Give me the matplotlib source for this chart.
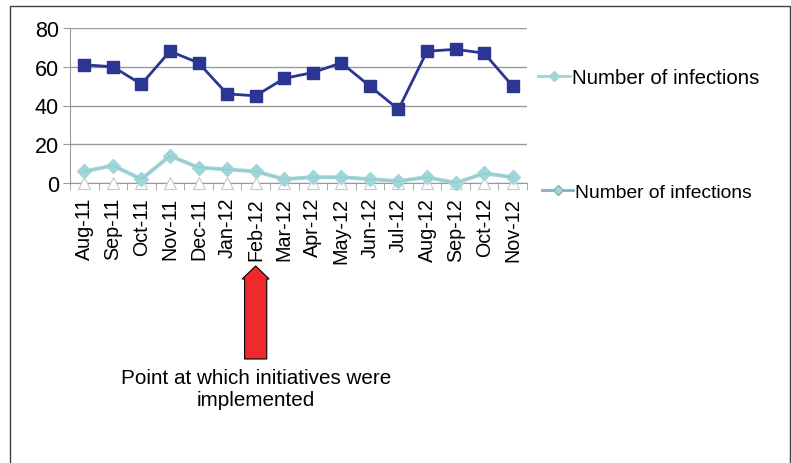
import numpy as np
import matplotlib.pyplot as plt
from matplotlib.lines import Line2D
from matplotlib.patches import Rectangle, FancyArrow

plt.rcParams['font.family'] = ['Liberation Sans', 'DejaVu Sans']

#%% Dados
meses = ['Aug-11', 'Sep-11', 'Oct-11', 'Nov-11', 'Dec-11', 'Jan-12', 'Feb-12', 'Mar-12',
         'Apr-12', 'May-12', 'Jun-12', 'Jul-12', 'Aug-12', 'Sep-12', 'Oct-12', 'Nov-12']
serie_alta = [61, 60, 51, 68, 62, 46, 45, 54, 57, 62, 50, 38, 68, 69, 67, 50]
serie_baixa = [6, 9, 2, 14, 8, 7, 6, 2, 3, 3, 2, 1, 3, 0, 5, 3]
serie_zero = [0, 0, 0, 0, 0, 0, 0, 0, 0, 0, 0, 0, 0, 0, 0, 0]
rotulo = 'Number of infections'
nota = 'Point at which initiatives were\nimplemented'
mes_nota = 'Feb-12'

azul = '#2B3592'
azul_claro = '#9ED6DA'
cinza = '#999999'

#%% Figura
fig = plt.figure(figsize=(7.91, 4.64), dpi=100)
fig.patches.append(Rectangle((10 / 791, -0.1), 780 / 791, 1.1 - 7 / 464, transform=fig.transFigure,
                             fill=False, edgecolor='#404040', linewidth=1.0))

ax = fig.add_axes([70 / 791, 1 - 184 / 464, 457 / 791, 155 / 464])
x = np.arange(len(meses))

ax.plot(x, serie_zero, linestyle='none', marker='^', markersize=9, markerfacecolor='white',
        markeredgecolor='#C8C8C8', markeredgewidth=0.8, zorder=4, clip_on=False)
ax.plot(x, serie_baixa, color=azul_claro, linewidth=2.8, marker='D', markersize=7,
        markeredgecolor=azul_claro, zorder=5, clip_on=False)
ax.plot(x, serie_baixa, color='#8FAFB2', linewidth=0.5, alpha=0.6, zorder=5)
ax.plot(x, serie_alta, color=azul, linewidth=2.0, marker='s', markersize=8, zorder=5)

ax.set_xlim(-0.5, len(meses) - 0.5)
ax.set_ylim(0, 80)
ax.set_yticks([0, 20, 40, 60, 80])
ax.yaxis.grid(True, color=cinza, linewidth=1.0)
ax.set_axisbelow(True)
ax.set_xticks(x)
ax.set_xticklabels(meses, rotation=90, fontsize=14.2)
ax.set_xticks(np.arange(-0.5, len(meses)), minor=True)
ax.tick_params(axis='x', which='major', length=0, pad=10)
ax.tick_params(axis='x', which='minor', length=5, color=cinza, direction='out')
ax.tick_params(axis='y', labelsize=15.5, length=5, color=cinza, pad=3)
for lado in ['top', 'right']:
    ax.spines[lado].set_visible(False)
for lado in ['left', 'bottom']:
    ax.spines[lado].set_color(cinza)

#%% Legendas
h1 = Line2D([], [], color=azul_claro, linewidth=2, marker='D', markersize=5)
h2 = Line2D([], [], color='#7FB5BA', linewidth=2, marker='D', markersize=5, markerfacecolor=azul_claro)
fig.legend(handles=[h1], labels=[rotulo], loc='center left', bbox_to_anchor=(519 / 791, 1 - 79 / 464),
           frameon=False, fontsize=14.8, handlelength=1.6, handletextpad=0.1)
fig.legend(handles=[h2], labels=[rotulo], loc='center left', bbox_to_anchor=(525 / 791, 1 - 193 / 464),
           frameon=False, fontsize=13.9, handlelength=1.6, handletextpad=0.1)

#%% Seta e nota
xi = meses.index(mes_nota)
xd = ax.transData.transform((xi, 0))[0] / fig.bbox.width
fig.patches.append(FancyArrow(xd, 1 - 360 / 464, 0, 93 / 464, width=13 / 464, head_width=27 / 791,
                              head_length=13 / 464, length_includes_head=True, transform=fig.transFigure,
                              facecolor='#EE2A2E', edgecolor='black', linewidth=0.8))
fig.text(xd, 1 - 390 / 464, nota, ha='center', va='center', fontsize=14.9, linespacing=1.2)

fig.savefig('out.png', dpi=100)
